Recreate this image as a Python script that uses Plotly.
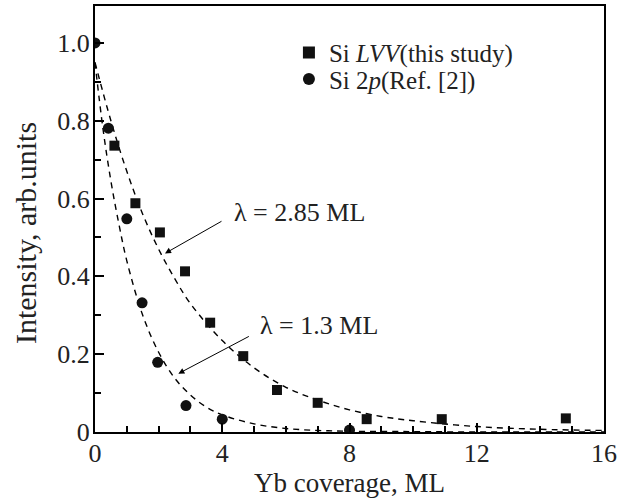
import plotly.graph_objects as go

# Data
lvv_x = [0.61, 1.27, 2.04, 2.83, 3.62, 4.66, 5.72, 7.0, 8.54, 10.9, 14.8]
lvv_y = [0.736, 0.588, 0.513, 0.413, 0.281, 0.195, 0.108, 0.075, 0.033, 0.033, 0.035]

si2p_x = [0.0, 0.42, 1.0, 1.48, 1.97, 2.86, 4.0, 8.0]
si2p_y = [1.0, 0.781, 0.548, 0.332, 0.179, 0.068, 0.033, 0.005]

# Dashed fit curves
fit285_x = [0, 0.5, 1, 1.5, 2, 2.5, 3, 4, 5, 6, 7, 8, 9, 10, 12, 14, 16]
fit285_y = [0.95, 0.80, 0.67, 0.56, 0.47, 0.395, 0.33, 0.235, 0.165, 0.115, 0.082, 0.057, 0.040, 0.029, 0.014, 0.007, 0.004]

fit13_x = [0, 0.25, 0.5, 0.75, 1, 1.5, 2, 2.5, 3, 3.5, 4, 5, 6, 7, 8, 10, 12, 14, 16]
fit13_y = [0.95, 0.78, 0.645, 0.535, 0.44, 0.30, 0.205, 0.139, 0.095, 0.064, 0.044, 0.021, 0.009, 0.004, 0.002, 0.001, 0.0, 0.0, 0.0]

x_ticks = [0, 4, 8, 12, 16]
y_ticks = [0, 0.2, 0.4, 0.6, 0.8, 1.0]
y_tick_labels = ["0", "0.2", "0.4", "0.6", "0.8", "1.0"]

FONT = "Liberation Serif, Times New Roman, serif"
FS = 26

fig = go.Figure()

fig.add_trace(go.Scatter(x=fit285_x, y=fit285_y, mode="lines", line=dict(color="black", width=1.4, dash="6px,5px", shape="spline"),
                         showlegend=False, hoverinfo="skip"))
fig.add_trace(go.Scatter(x=fit13_x, y=fit13_y, mode="lines", line=dict(color="black", width=1.4, dash="6px,5px", shape="spline"),
                         showlegend=False, hoverinfo="skip"))

fig.add_trace(go.Scatter(x=lvv_x, y=lvv_y, mode="markers", name="Si <i>LVV</i>(this study)", legend="legend",
                         marker=dict(symbol="square", size=10, color="#111")))
fig.add_trace(go.Scatter(x=si2p_x, y=si2p_y, mode="markers", name="Si 2<i>p</i>(Ref. [2])", legend="legend2",
                         marker=dict(symbol="circle", size=11, color="#111")))

# Arrows
fig.add_annotation(x=2.2, y=0.459, ax=58, ay=-33, text="", showarrow=True, arrowhead=2, arrowsize=1.2,
                   arrowwidth=1, arrowcolor="black", xref="x", yref="y")
fig.add_annotation(x=2.62, y=0.150, ax=72, ay=-38, text="", showarrow=True, arrowhead=2, arrowsize=1.2,
                   arrowwidth=1, arrowcolor="black", xref="x", yref="y")
# Labels
fig.add_annotation(x=4.3, y=0.565, text="λ = 2.85 ML", showarrow=False, xanchor="left", yanchor="middle",
                   font=dict(family=FONT, size=FS, color="#222"))
fig.add_annotation(x=5.13, y=0.275, text="λ = 1.3 ML", showarrow=False, xanchor="left", yanchor="middle",
                   font=dict(family=FONT, size=FS, color="#222"))
# Y axis title
fig.add_annotation(x=-0.1375, y=0.467, xref="paper", yref="paper", text="Intensity, arb.units", textangle=-90,
                   showarrow=False, xanchor="center", yanchor="middle",
                   font=dict(family=FONT, size=30, color="#222"))

axis_common = dict(showline=True, linecolor="black", linewidth=2, mirror=True, showgrid=False, zeroline=False,
                   ticks="inside", tickcolor="black", tickwidth=1.5, automargin=False,
                   tickfont=dict(family=FONT, size=FS, color="#222"))

fig.update_xaxes(range=[0, 16], tickvals=x_ticks, ticklen=9,
                 minor=dict(dtick=1, ticks="inside", ticklen=6, tickcolor="black", tickwidth=1.5),
                 title=dict(text="Yb coverage, ML", font=dict(family=FONT, size=27, color="#222"), standoff=6),
                 ticklabelstandoff=-3, **axis_common)
fig.update_yaxes(range=[0, 1.095], tickvals=y_ticks, ticktext=y_tick_labels, ticklen=9,
                 minor=dict(dtick=0.1, ticks="inside", ticklen=6, tickcolor="black", tickwidth=1.5),
                 ticklabelstandoff=-2, **axis_common)

leg_common = dict(xanchor="left", yanchor="top", bgcolor="rgba(0,0,0,0)",
                  font=dict(family=FONT, size=25, color="#222"), itemsizing="constant")
fig.update_layout(
    width=628, height=500,
    margin=dict(l=95, r=24, t=6, b=68),
    plot_bgcolor="white", paper_bgcolor="white",
    legend=dict(x=0.381, y=0.944, **leg_common),
    legend2=dict(x=0.381, y=0.882, **leg_common),
)

fig.write_html("out.html", config={"displayModeBar": False},
               post_script="document.body.style.margin='0';document.body.style.overflow='hidden';")
